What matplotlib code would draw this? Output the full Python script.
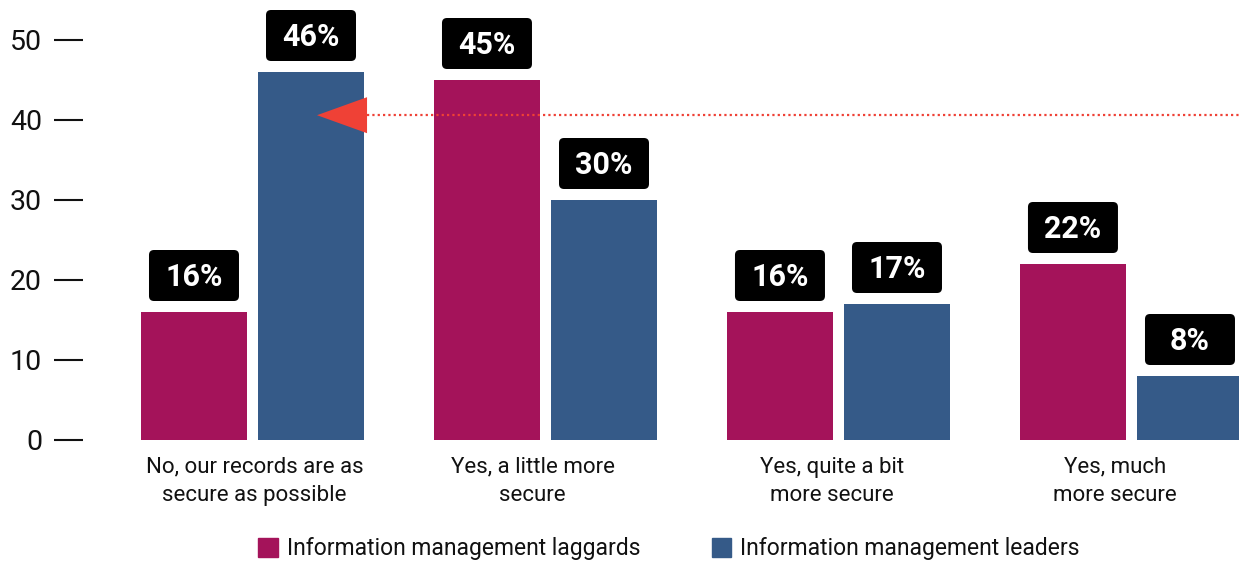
"""Grouped bar chart: records security, laggards vs leaders."""

import matplotlib.pyplot as plt
import numpy as np
from matplotlib.patches import FancyBboxPatch, Patch, Polygon

categories = [
    "No, our records are as\nsecure as possible",
    "Yes, a little more\nsecure",
    "Yes, quite a bit\nmore secure",
    "Yes, much\nmore secure",
]
laggards = [16, 45, 16, 22]
leaders = [46, 30, 17, 8]
series_names = ["Information management laggards", "Information management leaders"]
reference_level = 40.6  # dotted marker line pointing at the leaders' first bar

LAGGARD_COLOR = "#A4135A"
LEADER_COLOR = "#355A88"
ARROW_COLOR = "#EF4136"

plt.rcParams["font.family"] = ["Roboto", "DejaVu Sans"]

W, H = 1239, 562
fig = plt.figure(figsize=(W / 100, H / 100), dpi=100)
ax = fig.add_axes([83 / W, 122 / H, (W - 83) / W, 440 / H])

x = np.arange(len(categories))
width = 0.362
offset = 0.1997
ax.bar(x - offset, laggards, width, color=LAGGARD_COLOR)
ax.bar(x + offset, leaders, width, color=LEADER_COLOR)

ax.set_xlim(-0.5785, 3.367)
ax.set_ylim(0, 55)

# pixel -> data scale factors (293 px per group, 8 px per percentage point)
px_x = 1 / 293
px_y = 1 / 8

# value boxes above each bar
box_w = 90 * px_x
box_h = 51 * px_y
gap = 11 * px_y
radius = 5 * px_x
for xs, vals in ((x - offset, laggards), (x + offset, leaders)):
    for xc, v in zip(xs, vals):
        y0 = v + gap
        box = FancyBboxPatch(
            (xc - box_w / 2, y0), box_w, box_h,
            boxstyle=f"round,pad=0,rounding_size={radius}",
            mutation_aspect=px_y / px_x,
            facecolor="black", edgecolor="none", clip_on=False, zorder=3,
        )
        ax.add_patch(box)
        ax.text(xc, y0 + box_h / 2 + 1 * px_y, f"{v}%", color="white",
                fontsize=22, fontweight="bold", ha="center",
                va="center_baseline", zorder=4)

# arrow pointing at the leaders' first bar, with dotted guide line
bar_right = x[0] + offset + width / 2
tip_x = x[0] + offset + 6 * px_x
base_x = bar_right + 3 * px_x
half = 18 * px_y
ax.add_patch(Polygon(
    [(tip_x, reference_level), (base_x, reference_level + half),
     (base_x, reference_level - half)],
    closed=True, facecolor=ARROW_COLOR, edgecolor="none", zorder=3,
))
ax.plot([base_x, ax.get_xlim()[1]], [reference_level, reference_level],
        color=ARROW_COLOR, lw=1.6, linestyle=(0, (1, 1.4)),
        dash_capstyle="butt", zorder=2)

label_nudge = [0.007, -0.044, -0.022, -0.056]
ax.set_xticks(x + np.array(label_nudge))
ax.set_xticklabels(categories, fontsize=16, color="#111111", linespacing=1.45)
ax.tick_params(axis="x", length=0, pad=12)

ax.set_yticks(range(0, 51, 10))
ax.tick_params(axis="y", length=21, width=1.5, color="#111111",
               labelsize=20.5, labelcolor="#111111", pad=8.5)

for spine in ax.spines.values():
    spine.set_visible(False)

handles = [Patch(color=LAGGARD_COLOR), Patch(color=LEADER_COLOR)]
fig.legend(handles, series_names, loc="center", ncol=2, frameon=False,
           bbox_to_anchor=(669 / W, 1 - 549 / H), fontsize=16.5,
           handlelength=0.85, handleheight=0.85, handletextpad=0.4,
           columnspacing=3.1, labelcolor="#111111")

fig.savefig("out.png", dpi=100)
